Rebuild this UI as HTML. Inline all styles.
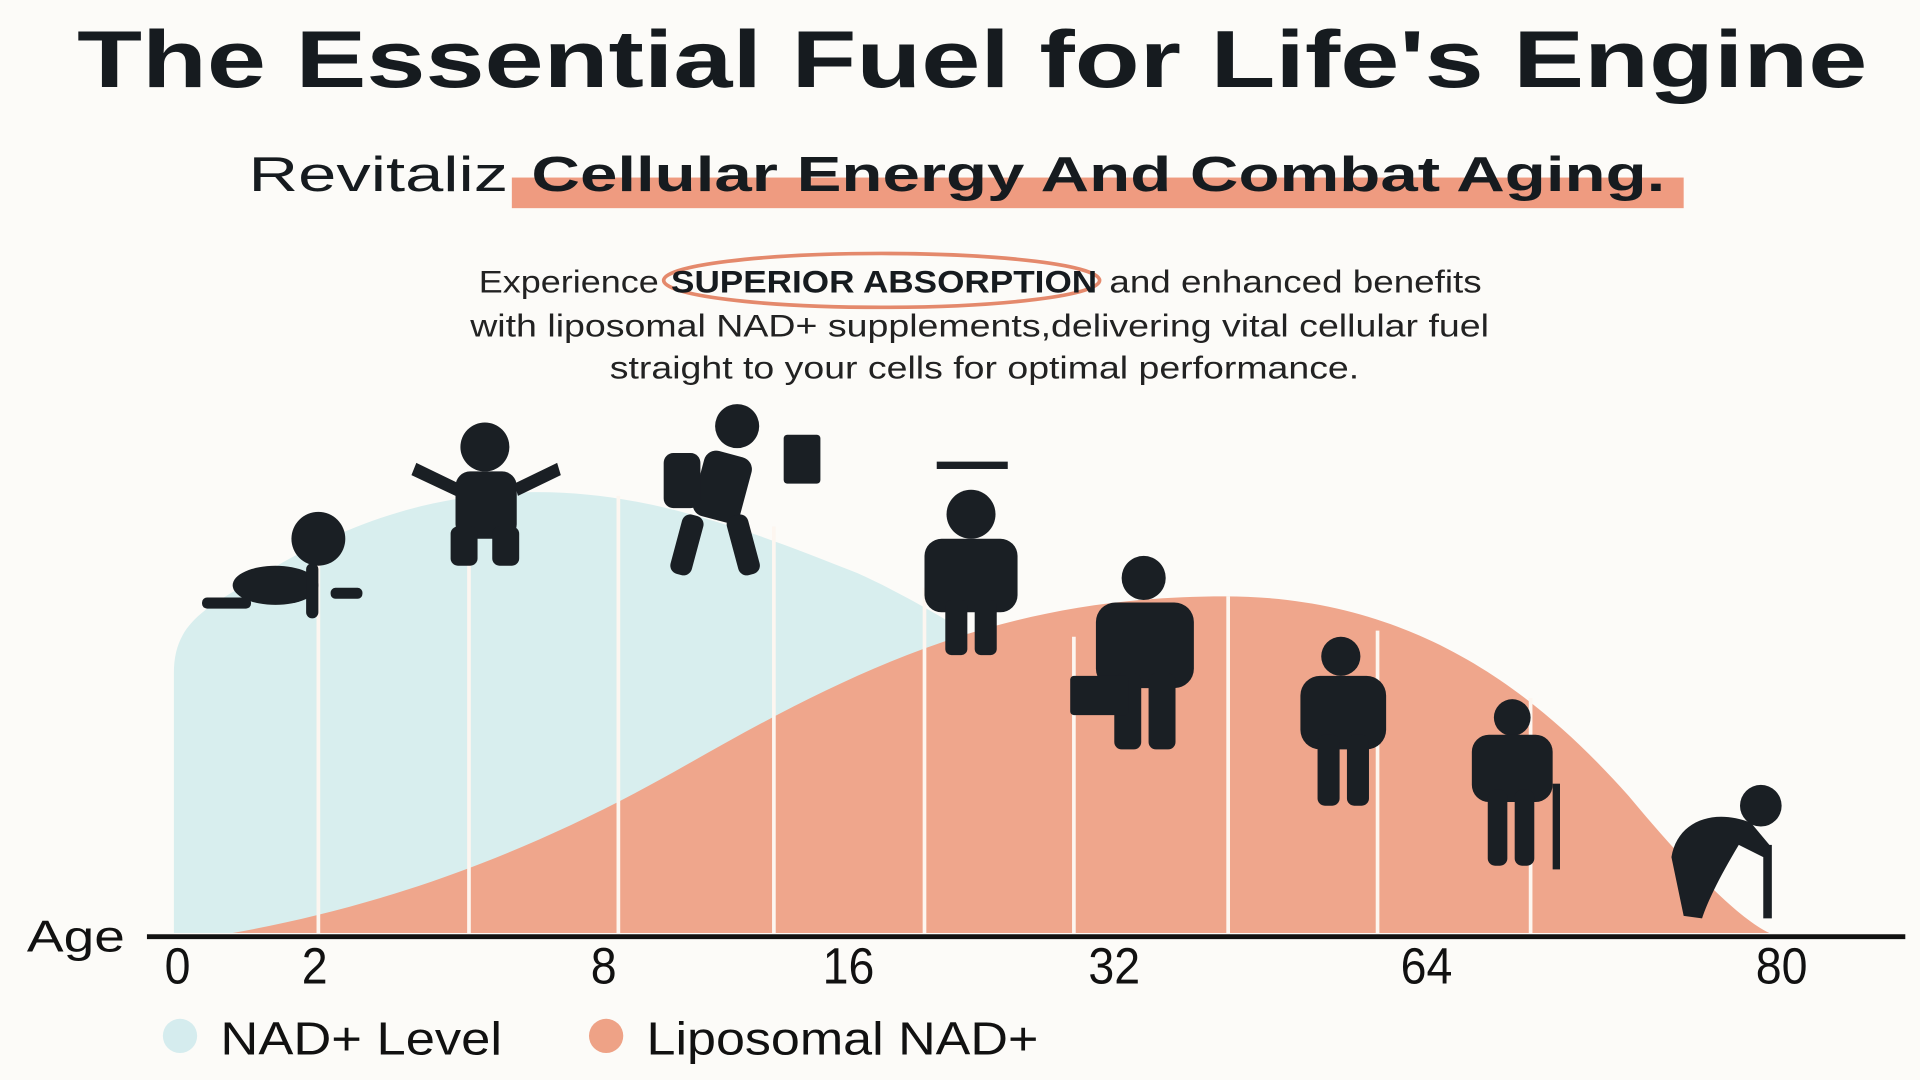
<!DOCTYPE html>
<html><head><meta charset="utf-8"><style>
html,body{margin:0;padding:0;background:#fdfcfa;}
svg{display:block}
text{font-family:"Liberation Sans",sans-serif;}
</style></head><body>
<svg width="1920" height="1080" viewBox="0 0 1568 882" xmlns="http://www.w3.org/2000/svg">
<rect width="1568" height="882" fill="#fcfbf8"/>
<text x="794" y="71" text-anchor="middle" font-size="66" font-weight="bold" fill="#161b1f" textLength="1462" lengthAdjust="spacingAndGlyphs">The Essential Fuel for Life's Engine</text>
<rect x="418" y="145" width="957" height="25" fill="#ef9b80"/>
<text x="203" y="156" font-size="40" fill="#161b1f" textLength="212" lengthAdjust="spacingAndGlyphs">Revitaliz</text>
<text x="434" y="156" font-size="40" font-weight="bold" fill="#161b1f" textLength="926" lengthAdjust="spacingAndGlyphs">Cellular Energy And Combat Aging.</text>
<ellipse cx="720" cy="229" rx="178" ry="22" fill="none" stroke="#e4896c" stroke-width="3"/>
<text x="391" y="239" font-size="26" fill="#222" textLength="147" lengthAdjust="spacingAndGlyphs">Experience</text>
<text x="548" y="239" font-size="26" font-weight="bold" fill="#161b1f" textLength="348" lengthAdjust="spacingAndGlyphs">SUPERIOR ABSORPTION</text>
<text x="906" y="239" font-size="26" fill="#222" textLength="304" lengthAdjust="spacingAndGlyphs">and enhanced benefits</text>
<text x="800" y="275" text-anchor="middle" font-size="26" fill="#222" textLength="832" lengthAdjust="spacingAndGlyphs">with liposomal NAD+ supplements,delivering vital cellular fuel</text>
<text x="804" y="309" text-anchor="middle" font-size="26" fill="#222" textLength="612" lengthAdjust="spacingAndGlyphs">straight to your cells for optimal performance.</text>

<path d="M142,762 L142,550 C142,515 160,500 200,478 C260,440 330,405 430,402 C520,400 600,428 700,468 C760,495 800,525 840,545 L900,762 Z" fill="#d8eeee"/>
<path d="M190,762 C300,742 420,705 560,625 C700,545 820,487 1000,487 C1150,487 1250,560 1330,650 C1380,710 1420,750 1445,762 Z" fill="#efa68c"/>
<g stroke="#fdf6f0" stroke-width="3">
<line x1="260" y1="420" x2="260" y2="762"/><line x1="383" y1="410" x2="383" y2="762"/><line x1="505" y1="405" x2="505" y2="762"/><line x1="632" y1="430" x2="632" y2="762"/><line x1="755" y1="480" x2="755" y2="762"/><line x1="877" y1="520" x2="877" y2="762"/><line x1="1003" y1="487" x2="1003" y2="762"/><line x1="1125" y1="515" x2="1125" y2="762"/><line x1="1250" y1="570" x2="1250" y2="762"/>
</g>
<g fill="#1a1f24">
<circle cx="260" cy="440" r="22"/><ellipse cx="225" cy="478" rx="35" ry="16"/><rect x="165" y="488" width="40" height="9" rx="4"/><rect x="250" y="460" width="10" height="45" rx="5"/><rect x="270" y="480" width="26" height="9" rx="4"/>
<circle cx="396" cy="365" r="20"/><rect x="372" y="385" width="50" height="55" rx="12"/><rect x="368" y="430" width="22" height="32" rx="6"/><rect x="402" y="430" width="22" height="32" rx="6"/><path d="M340,378 L375,395 L372,405 L336,388Z"/><path d="M455,378 L420,395 L423,405 L458,388Z"/>
<circle cx="602" cy="348" r="18"/><rect x="570" y="370" width="40" height="55" rx="10" transform="rotate(15 590 397)"/><rect x="542" y="370" width="30" height="45" rx="8"/><rect x="552" y="420" width="18" height="50" rx="7" transform="rotate(15 561 445)"/><rect x="598" y="420" width="18" height="50" rx="7" transform="rotate(-15 607 445)"/><rect x="640" y="355" width="30" height="40" rx="3"/>
<circle cx="793" cy="420" r="20"/><rect x="765" y="377" width="58" height="6"/><rect x="755" y="440" width="76" height="60" rx="14"/><rect x="772" y="490" width="18" height="45" rx="5"/><rect x="796" y="490" width="18" height="45" rx="5"/>
<circle cx="934" cy="472" r="18"/><rect x="895" y="492" width="80" height="70" rx="16"/><rect x="910" y="550" width="22" height="62" rx="6"/><rect x="938" y="550" width="22" height="62" rx="6"/><rect x="874" y="552" width="48" height="32" rx="3"/>
<circle cx="1095" cy="536" r="16"/><rect x="1062" y="552" width="70" height="60" rx="16"/><rect x="1076" y="600" width="18" height="58" rx="6"/><rect x="1100" y="600" width="18" height="58" rx="6"/>
<circle cx="1235" cy="586" r="15"/><rect x="1202" y="600" width="66" height="55" rx="14"/><rect x="1215" y="645" width="16" height="62" rx="6"/><rect x="1237" y="645" width="16" height="62" rx="6"/><rect x="1268" y="640" width="6" height="70"/>
<circle cx="1438" cy="658" r="17"/><path d="M1365,700 C1370,670 1400,660 1430,672 L1445,690 L1440,700 L1420,690 C1405,715 1395,735 1390,750 L1375,748 Z"/><rect x="1440" y="690" width="7" height="60"/>
</g>
<line x1="120" y1="765" x2="1556" y2="765" stroke="#111" stroke-width="4"/>
<text x="22" y="777" font-size="36" fill="#111" textLength="80" lengthAdjust="spacingAndGlyphs">Age</text>
<g font-size="38" fill="#111" text-anchor="middle" transform="translate(0,-80) scale(1,1.1)">
<text x="145" y="803">0</text><text x="257" y="803">2</text><text x="493" y="803">8</text><text x="693" y="803">16</text><text x="910" y="803">32</text><text x="1165" y="803">64</text><text x="1455" y="803">80</text>
</g>
<circle cx="147" cy="846" r="14" fill="#d5ecee"/>
<text x="180" y="861" font-size="38" fill="#111" textLength="230" lengthAdjust="spacingAndGlyphs">NAD+ Level</text>
<circle cx="495" cy="846" r="14" fill="#eea286"/>
<text x="528" y="861" font-size="38" fill="#111" textLength="320" lengthAdjust="spacingAndGlyphs">Liposomal NAD+</text>
</svg>
</body></html>
